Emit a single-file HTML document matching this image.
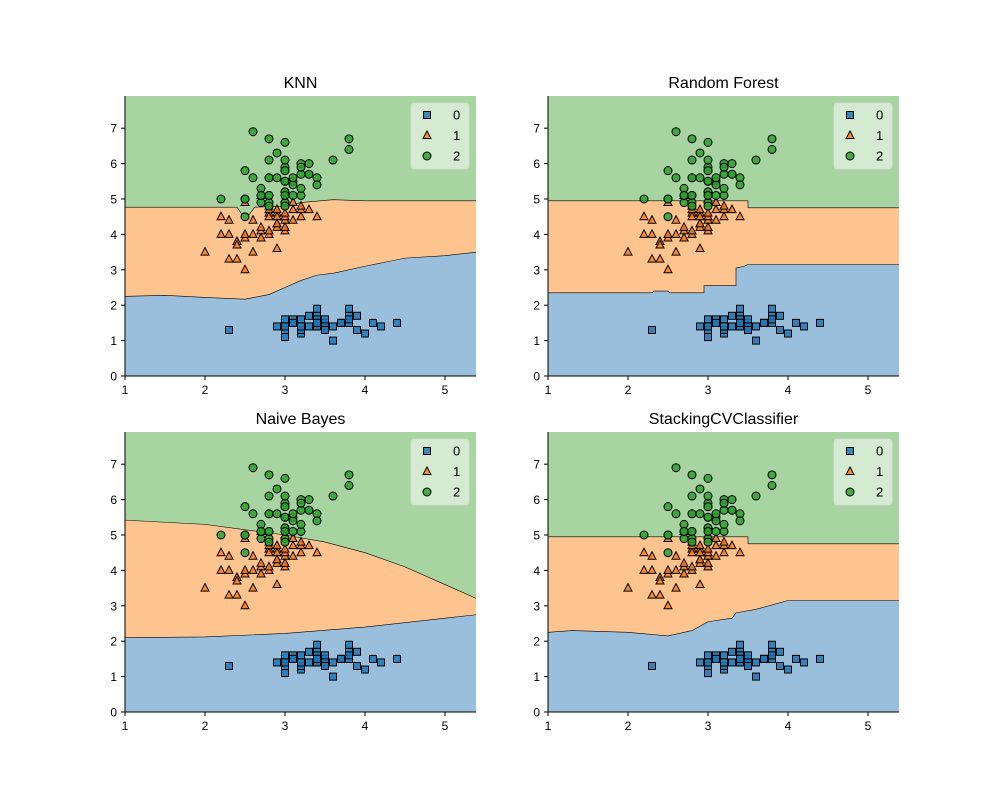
<!DOCTYPE html>
<html><head><meta charset="utf-8"><style>
body{margin:0;background:#fff}
svg{display:block;font-family:"Liberation Sans",sans-serif}
</style></head><body>
<svg id="fig" width="1000" height="800" viewBox="0 0 1000 800"></svg>
<script>
// Iris data: sepal width (x), petal length (y)
const x0 = [3.5,3.0,3.2,3.1,3.6,3.9,3.4,3.4,2.9,3.1,3.7,3.4,3.0,3.0,4.0,4.4,3.9,3.5,3.8,3.8,3.4,3.7,3.6,3.3,3.4,3.0,3.4,3.5,3.4,3.2,3.1,3.4,4.1,4.2,3.1,3.2,3.5,3.1,3.0,3.4,3.5,2.3,3.2,3.5,3.8,3.0,3.8,3.2,3.7,3.3];
const y0 = [1.4,1.4,1.3,1.5,1.4,1.7,1.4,1.5,1.4,1.5,1.5,1.6,1.4,1.1,1.2,1.5,1.3,1.4,1.7,1.5,1.7,1.5,1.0,1.7,1.9,1.6,1.6,1.5,1.4,1.6,1.6,1.5,1.5,1.4,1.5,1.2,1.3,1.5,1.3,1.5,1.3,1.3,1.3,1.6,1.9,1.4,1.6,1.4,1.5,1.4];
const x1 = [3.2,3.2,3.1,2.3,2.8,2.8,3.3,2.4,2.9,2.7,2.0,3.0,2.2,2.9,2.9,3.1,3.0,2.7,2.2,2.5,3.2,2.8,2.5,2.8,2.9,3.0,2.8,3.0,2.9,2.6,2.4,2.4,2.7,2.7,3.0,3.4,3.1,2.3,3.0,2.5,2.6,3.0,2.6,2.3,2.7,3.0,2.9,2.9,2.5,2.8];
const y1 = [4.7,4.5,4.9,4.0,4.6,4.5,4.7,3.3,4.6,3.9,3.5,4.2,4.0,4.7,3.6,4.4,4.5,4.1,4.5,3.9,4.8,4.0,4.9,4.7,4.3,4.4,4.8,5.0,4.5,3.5,3.8,3.7,3.9,5.1,4.5,4.5,4.7,4.4,4.1,4.0,4.4,4.6,4.0,3.3,4.2,4.2,4.2,4.3,3.0,4.1];
const x2 = [3.3,2.7,3.0,2.9,3.0,3.0,2.5,2.9,2.5,3.6,3.2,2.7,3.0,2.5,2.8,3.2,3.0,3.8,2.6,2.2,3.2,2.8,2.8,2.7,3.3,3.2,2.8,3.0,2.8,3.0,2.8,3.8,2.8,2.8,2.6,3.0,3.4,3.1,3.0,3.1,3.1,3.1,2.7,3.2,3.3,3.0,2.5,3.0,3.4,3.0];
const y2 = [6.0,5.1,5.9,5.6,5.8,6.6,4.5,6.3,5.8,6.1,5.1,5.3,5.5,5.0,5.1,5.3,5.5,6.7,6.9,5.0,5.7,4.9,6.7,4.9,5.7,6.0,4.8,4.9,5.6,5.8,6.1,6.4,5.6,5.1,5.6,6.1,5.6,5.5,4.8,5.4,5.6,5.1,5.1,5.9,5.7,5.2,5.0,5.2,5.4,5.1];
const titles = ["KNN","Random Forest","Naive Bayes","StackingCVClassifier"];
const xTicks = [1,2,3,4,5];
const yTicks = [0,1,2,3,4,5,6,7];
// decision boundaries [x,y]
const lowKNN = [[1,2.25],[1.5,2.28],[2,2.22],[2.5,2.17],[2.8,2.3],[3,2.5],[3.2,2.7],[3.4,2.85],[3.6,2.9],[4,3.1],[4.5,3.33],[5,3.4],[5.4,3.5]];
const upKNN = [[1,4.77],[2.4,4.77],[2.45,4.6],[2.55,4.55],[2.62,4.77],[3.0,4.8],[3.2,4.9],[3.6,4.98],[4,4.95],[5.4,4.95]];
const lowRF = [[1,2.35],[2.3,2.35],[2.32,2.4],[2.5,2.4],[2.52,2.35],[2.95,2.35],[2.95,2.55],[3.35,2.55],[3.35,3.05],[3.45,3.1],[3.5,3.15],[5.4,3.15]];
const upRF = [[1,4.95],[3.5,4.95],[3.5,4.75],[5.4,4.75]];
const lowNB = [[1,2.1],[2,2.12],[3,2.22],[4,2.4],[5,2.65],[5.4,2.75]];
const upNB = [[1,5.42],[2,5.3],[3,5.0],[3.5,4.8],[4,4.5],[4.5,4.1],[5,3.6],[5.4,3.2]];
const lowST = [[1,2.25],[1.3,2.3],[2,2.25],[2.5,2.15],[2.8,2.3],[3,2.55],[3.3,2.65],[3.35,2.8],[3.6,2.9],[4,3.15],[5.4,3.15]];
const upST = [[1,4.95],[3.5,4.95],[3.5,4.75],[5.4,4.75]];
const lows = [lowKNN, lowRF, lowNB, lowST];
const ups = [upKNN, upRF, upNB, upST];

const NS = "http://www.w3.org/2000/svg";
const svg = document.getElementById("fig");
function mk(tag, attrs, parent){const e=document.createElementNS(NS,tag);for(const k in attrs)e.setAttribute(k,attrs[k]);(parent||svg).appendChild(e);return e;}
const origins = [[125,96],[548,96],[125,432],[548,432]];
const W=351,H=280,XMIN=1,XMAX=1+W/80,YMAX=H/35.4;

origins.forEach((o,i)=>{
  const L=o[0],T=o[1];
  const sx=v=>L+(v-XMIN)/(XMAX-XMIN)*W;
  const sy=v=>T+H-v/YMAX*H;
  const g=mk("g",{});
  
  
  const cp=mk("clipPath",{id:"c"+i},g);
  mk("rect",{x:L,y:T,width:W,height:H},cp);
  const rg=mk("g",{"clip-path":"url(#c"+i+")"},g);
  const bg=mk("rect",{x:L,y:T,width:W,height:H,fill:"#a8d4a2"},rg);
  
  
  const poly=(pts)=>pts.map(p=>sx(p[0])+","+sy(p[1])).join(" ")+" "+sx(XMAX+0.1)+","+(T+H+2)+" "+sx(XMIN-0.1)+","+(T+H+2);
  const lineP=(pts)=>pts.map(p=>sx(p[0])+","+sy(p[1])).join(" ");
  const or=mk("polygon",{points:poly(ups[i]),fill:"#fec48f"},rg);
  
  
  const bl=mk("polygon",{points:poly(lows[i]),fill:"#99bfdc"},rg);
  
  
  mk("polyline",{points:lineP(ups[i]),fill:"none",stroke:"#000","stroke-width":0.6},rg);
  mk("polyline",{points:lineP(lows[i]),fill:"none",stroke:"#000","stroke-width":0.6},rg);
  const pg=mk("g",{},rg);
  x0.forEach((xv,j)=>{const r=mk("rect",{x:sx(xv)-3.5,y:sy(y0[j])-3.5,width:7,height:7,fill:"#1f77b4","fill-opacity":0.85,stroke:"#000","stroke-width":1},pg);
    
    });
  x1.forEach((xv,j)=>{const cx=sx(xv),cy=sy(y1[j]);const t=mk("polygon",{points:`${cx},${cy-4.5} ${cx+4},${cy+3} ${cx-4},${cy+3}`,fill:"#ff7f0e","fill-opacity":0.85,stroke:"#000","stroke-width":1},pg);
    
    });
  x2.forEach((xv,j)=>{const c=mk("circle",{cx:sx(xv),cy:sy(y2[j]),r:4,fill:"#2ca02c","fill-opacity":0.85,stroke:"#000","stroke-width":1},pg);
    
    });
  mk("line",{x1:L,y1:T,x2:L,y2:T+H,stroke:"#000","stroke-width":1},g);
  mk("line",{x1:L,y1:T+H,x2:L+W,y2:T+H,stroke:"#000","stroke-width":1},g);
  xTicks.forEach(v=>{const X=sx(v);mk("line",{x1:X,y1:T+H,x2:X,y2:T+H+4,stroke:"#000"},g);
    const t=mk("text",{x:X,y:T+H+18,"text-anchor":"middle","font-size":12},g);t.textContent=v;
    
    });
  yTicks.forEach(v=>{const Y=sy(v);mk("line",{x1:L-4,y1:Y,x2:L,y2:Y,stroke:"#000"},g);
    const t=mk("text",{x:L-8,y:Y+4.5,"text-anchor":"end","font-size":12},g);t.textContent=v;
    
    });
  const tt=mk("text",{x:L+W/2,y:T-8,"text-anchor":"middle","font-size":16},g);tt.textContent=titles[i];
  
  
  const lg=mk("g",{},g);
  
  
  const lx=L+W-65,ly=T+7;
  mk("rect",{x:lx,y:ly,width:58,height:66,rx:3,fill:"#fff","fill-opacity":0.5,stroke:"#ddd","stroke-opacity":0.6},lg);
  [0,1,2].forEach(k=>{const cy=ly+12+k*20.5,cx=lx+16;
    if(k==0)mk("rect",{x:cx-3.5,y:cy-3.5,width:7,height:7,fill:"#1f77b4","fill-opacity":0.85,stroke:"#000"},lg);
    if(k==1)mk("polygon",{points:`${cx},${cy-4.5} ${cx+4},${cy+3} ${cx-4},${cy+3}`,fill:"#ff7f0e","fill-opacity":0.85,stroke:"#000"},lg);
    if(k==2)mk("circle",{cx:cx,cy:cy,r:4,fill:"#2ca02c","fill-opacity":0.85,stroke:"#000"},lg);
    const t=mk("text",{x:lx+42,y:cy+4.5,"font-size":13},lg);t.textContent=k;
    
    });
});
</script>
</body></html>
